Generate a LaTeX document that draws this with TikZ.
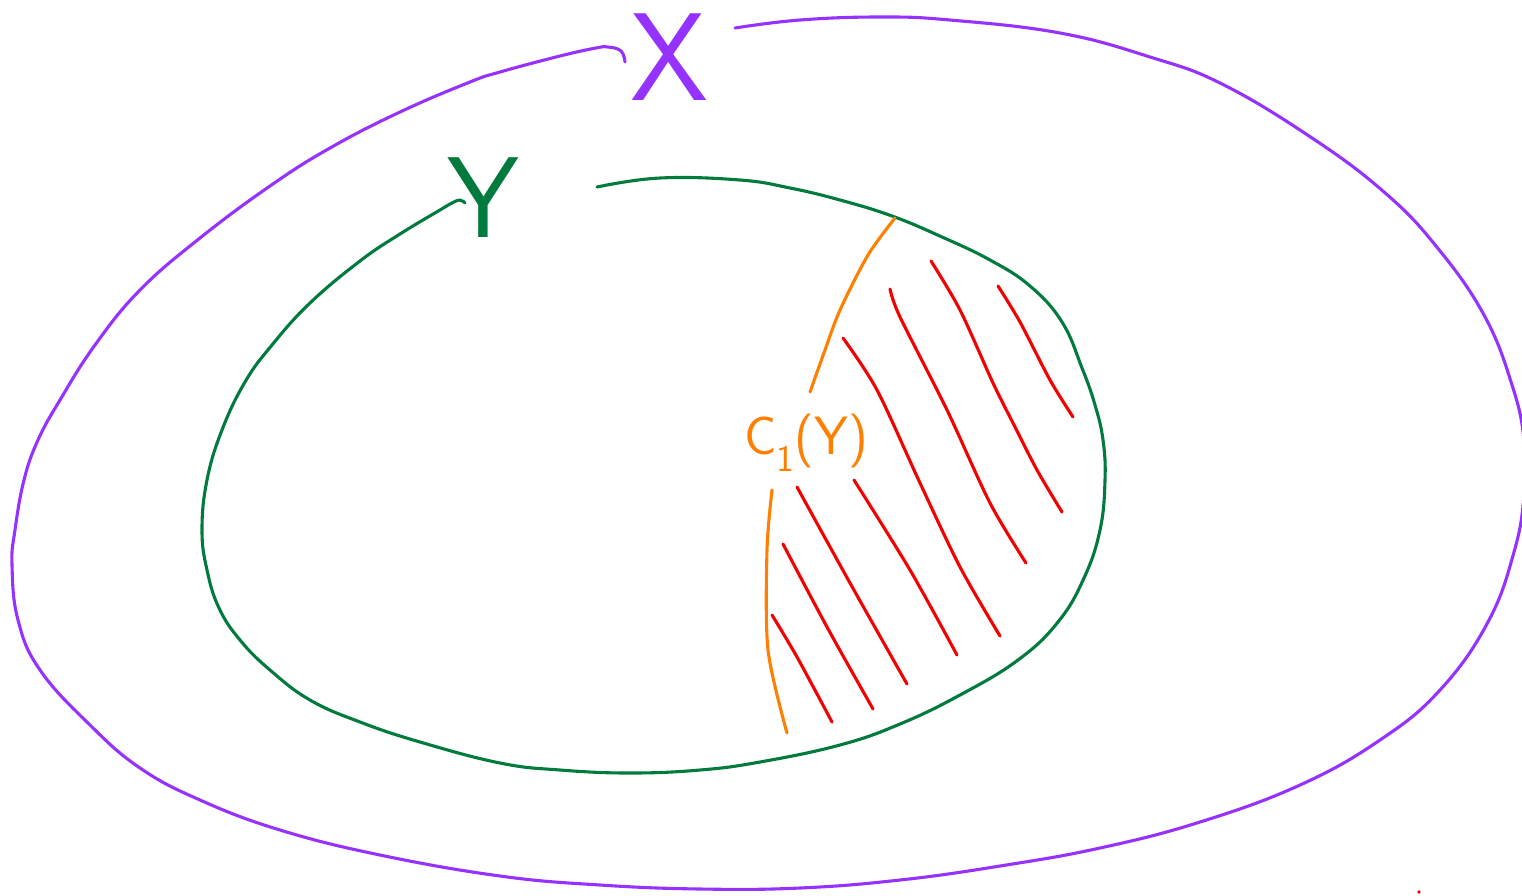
\documentclass[tikz,border=0pt]{standalone}
\definecolor{px}{RGB}{150,50,255}
\definecolor{gy}{RGB}{0,122,61}
\definecolor{oc}{RGB}{255,128,0}
\definecolor{rh}{RGB}{245,0,0}
\tikzset{
  pen/.style={line width=3.1pt, line cap=round, line join=round},
  outer/.style={pen, draw=px},
  inner/.style={pen, draw=gy},
  hatch/.style={pen, draw=rh},
  bracket/.style={pen, draw=oc},
  lbl/.style={inner sep=0pt, font=\sffamily}
}
\begin{document}
\begin{tikzpicture}[x=1pt,y=-1pt]
\useasboundingbox (0,0) rectangle (1522,895);
\clip (0,0) rectangle (1522,895);
% outer set X
\draw[outer] plot[smooth, tension=0.7] coordinates {
 (625,62) (621,51) (608,47) (596,48) (560,56) (500,72) (470,82) (400,112)
 (330,148) (270,186) (200,238) (140,290) (95,345) (60,400) (38,440)
 (24,480) (15,530) (12,565) (18,620) (40,670) (90,725) (140,768) (200,800) (280,830)
 (380,855) (500,876) (600,885) (700,889) (800,888) (900,880) (1000,866)
 (1100,848) (1200,822) (1300,785) (1380,740) (1440,690) (1488,622) (1514,552)
 (1524,495) (1524,440) (1512,385) (1484,315) (1436,246) (1384,192) (1312,138)
 (1222,84) (1150,57) (1060,33) (950,20) (880,17) (800,20) (735,28)};
\node[lbl, text=px, font=\sffamily\fontsize{125}{125}\selectfont] (X) at (670,57) {X};
% inner set Y
\draw[inner] plot[smooth, tension=0.7] coordinates {
 (465,203) (460,200) (452,203) (440,210) (400,234) (360,261) (310,303) (272,345)
 (245,382) (222,430) (207,480) (202,530) (207,570) (219,608) (240,640) (270,670)
 (310,700) (360,722) (420,742) (500,763) (560,770) (630,773) (700,770) (760,762)
 (840,745) (900,724) (960,695) (1018,660) (1058,622) (1084,578) (1100,530)
 (1105,480) (1103,440) (1095,405) (1082,368) (1062,322) (1030,286) (990,260)
 (942,237) (892,216) (840,200) (790,188) (740,180) (660,178) (597,187)};
\node[lbl, text=gy, font=\sffamily\fontsize{115}{115}\selectfont] (Y) at (483,198) {Y};
% hatching
\draw[hatch] plot[smooth] coordinates {(998,286) (1020,322) (1050,380) (1073,417)};
\draw[hatch] plot[smooth] coordinates {(931,261) (960,310) (993,383) (1013,423) (1037,470) (1062,512)};
\draw[hatch] plot[smooth] coordinates {(890,289) (900,317) (947,410) (990,503) (1026,563)};
\draw[hatch] plot[smooth] coordinates {(843,338) (877,390) (920,483) (960,567) (1000,636)};
\draw[hatch] plot[smooth] coordinates {(854,480) (910,570) (957,655)};
\draw[hatch] plot[smooth] coordinates {(797,487) (850,583) (907,684)};
\draw[hatch] plot[smooth] coordinates {(783,544) (827,627) (873,709)};
\draw[hatch] plot[smooth] coordinates {(772,615) (797,657) (832,722)};
% label C_1(Y)
\node[lbl, text=oc, font=\sffamily\fontsize{54}{54}\selectfont] (C) at (806,443) {C\textsubscript{1}(Y)};
\draw[bracket] plot[smooth] coordinates {(895,218) (868,255) (840,310) (825,350) (810,392)};
\draw[bracket] plot[smooth] coordinates {(772,490) (767,550) (768,650) (787,733)};
% red dot
\fill[rh] (1419,892) circle (1.8);
\end{tikzpicture}
\end{document}
